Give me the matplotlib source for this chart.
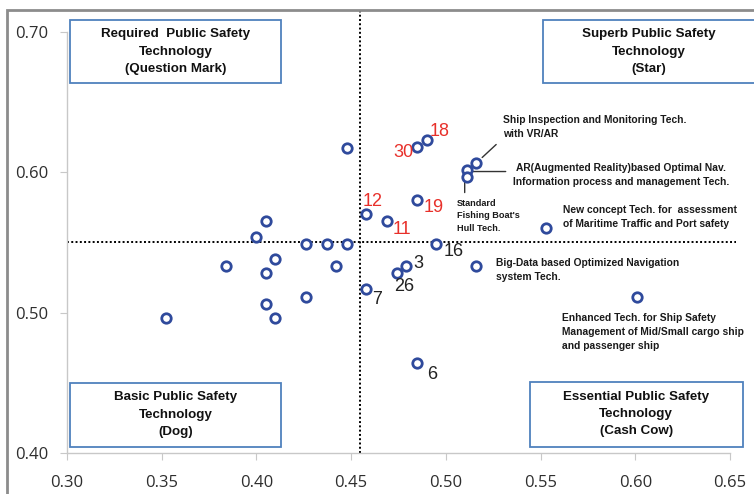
import matplotlib
matplotlib.use("Agg")
import matplotlib.pyplot as plt
from matplotlib.patches import Rectangle
from matplotlib.transforms import offset_copy

# ---------------- data ----------------
x_vals = [0.448, 0.458, 0.405, 0.400, 0.426, 0.437, 0.448, 0.384, 0.410, 0.405,
          0.442, 0.426, 0.405, 0.410, 0.352, 0.458, 0.485, 0.490, 0.516, 0.511,
          0.511, 0.485, 0.469, 0.553, 0.495, 0.479, 0.474, 0.516, 0.601, 0.485]
y_vals = [0.617, 0.570, 0.565, 0.554, 0.549, 0.549, 0.549, 0.533, 0.538, 0.528,
          0.533, 0.511, 0.506, 0.496, 0.496, 0.517, 0.618, 0.623, 0.607, 0.602,
          0.597, 0.580, 0.565, 0.560, 0.549, 0.533, 0.528, 0.533, 0.511, 0.464]

# numbered labels: (point index, text, colour, offset px, ha)
num_labels = [
    (1, "12", "#e8302a", (-4, 13), "left"),
    (16, "30", "#e8302a", (-4, -5), "right"),
    (17, "18", "#e8302a", (3, 9), "left"),
    (21, "19", "#e8302a", (6, -7), "left"),
    (22, "11", "#e8302a", (5, -8), "left"),
    (24, "16", "#222222", (7, -8), "left"),
    (25, "3", "#222222", (7, 3), "left"),
    (26, "26", "#222222", (-2, -13), "left"),
    (15, "7", "#222222", (6, -11), "left"),
    (29, "6", "#222222", (10, -11), "left"),
]

# descriptive annotations: (point index, text, offset px, ha, fontsize, leader line offsets)
tech_labels = [
    (18, "Ship Inspection and Monitoring Tech.\nwith VR/AR", (27, 36), "left", 7.4, ((6, 5), (20, 18))),
    (19, "AR(Augmented Reality)based Optimal Nav.\nInformation process and management Tech.", (154, -5), "center", 7.4, ((1, -2), (39, -2))),
    (20, "Standard\nFishing Boat's\nHull Tech.", (-10, -39), "left", 6.6, ((-2, -5), (-2, -16))),
    (23, "New concept Tech. for  assessment\nof Maritime Traffic and Port safety", (17, 11), "left", 7.4, None),
    (27, "Big-Data based Optimized Navigation\nsystem Tech.", (20, -4), "left", 7.4, None),
    (28, "Enhanced Tech. for Ship Safety\nManagement of Mid/Small cargo ship\nand passenger ship", (-75, -35), "left", 7.4, None),
]

quadrants = [
    ("Required  Public Safety\nTechnology\n(Question Mark)", (0.3016, 0.6637, 0.4132, 0.7085)),
    ("Superb Public Safety\nTechnology\n(Star)", (0.5513, 0.6637, 0.6630, 0.7085)),
    ("Basic Public Safety\nTechnology\n(Dog)", (0.3016, 0.4046, 0.4132, 0.4502)),
    ("Essential Public Safety\nTechnology\n(Cash Cow)", (0.5444, 0.4046, 0.6566, 0.4509)),
]

x_split = 0.4545
y_split = 0.5505
x_ticks = [0.30, 0.35, 0.40, 0.45, 0.50, 0.55, 0.60, 0.65]
y_ticks = [0.40, 0.50, 0.60, 0.70]

narrow = ["Liberation Sans", "DejaVu Sans"]

# ---------------- figure ----------------
fig = plt.figure(figsize=(7.54, 4.94), dpi=100)
ax = fig.add_axes([67 / 754, 41 / 494, 663 / 754, 421 / 494])
ax.set_xlim(0.30, 0.65)
ax.set_ylim(0.40, 0.70)

# outer frame
fig.patches.append(Rectangle((7 / 754, -0.1), 1.2, (494 - 10) / 494 + 0.1,
                             transform=fig.transFigure, fill=False,
                             edgecolor="#8c8c8c", linewidth=2.0))

for s in ["top", "right"]:
    ax.spines[s].set_visible(False)
for s in ["left", "bottom"]:
    ax.spines[s].set_color("#c8c8c8")
    ax.spines[s].set_linewidth(1.0)

ax.set_xticks(x_ticks)
ax.set_yticks(y_ticks)
ax.set_xticklabels([f"{v:.2f}" for v in x_ticks])
ax.set_yticklabels([f"{v:.2f}" for v in y_ticks])
ax.tick_params(axis="both", direction="out", length=5, color="#c8c8c8",
               labelsize=12, labelcolor="#2e2e2e")
ax.tick_params(axis="x", pad=10.5)
ax.tick_params(axis="y", pad=8.7)
for lab in ax.get_xticklabels() + ax.get_yticklabels():
    lab.set_family(["Open Sans", "DejaVu Sans"])

# split lines
ax.plot([x_split, x_split], [0.40, 0.7155], ls=(0, (1, 1.2)), color="black",
        lw=1.4, clip_on=False, zorder=2)
ax.plot([0.30, 0.653], [y_split, y_split], ls=(0, (1, 1.2)), color="black",
        lw=1.4, clip_on=False, zorder=2)

# points
ax.plot(x_vals, y_vals, "o", ms=6.8, mfc="white", mec="#2f4a9c", mew=2.0,
        ls="none", zorder=4, clip_on=False)

# number labels
for i, txt, col, (dx, dy), ha in num_labels:
    ax.annotate(txt, (x_vals[i], y_vals[i]), xytext=(dx, dy),
                textcoords="offset pixels", ha=ha, va="center",
                fontsize=13, color=col, family=["Liberation Sans", "DejaVu Sans"],
                zorder=5)

# tech labels
for i, txt, (dx, dy), ha, fs, leader in tech_labels:
    ax.annotate(txt, (x_vals[i], y_vals[i]), xytext=(dx, dy),
                textcoords="offset pixels", ha=ha, va="center", ma=ha,
                fontsize=fs, fontweight="bold", color="#1a1a1a",
                family=narrow, linespacing=1.5, zorder=5)
    if leader is not None:
        (a1, b1), (a2, b2) = leader
        tr = offset_copy(ax.transData, fig=fig, x=a1, y=b1, units="dots")
        ax.annotate("", xy=(x_vals[i], y_vals[i]), xycoords=tr,
                    xytext=(a2 - a1, b2 - b1), textcoords="offset pixels",
                    arrowprops=dict(arrowstyle="-", color="#333333", lw=1.0,
                                    shrinkA=0, shrinkB=0), zorder=3)

# quadrant boxes
for txt, (x0, y0, x1, y1) in quadrants:
    ax.add_patch(Rectangle((x0, y0), x1 - x0, y1 - y0, fill=True,
                           facecolor="white", edgecolor="#4f81bd", lw=1.3,
                           clip_on=False, zorder=6))
    ax.text((x0 + x1) / 2, (y0 + y1) / 2, txt, ha="center", va="center",
            fontsize=9.6, fontweight="bold", family=narrow, color="#111111",
            linespacing=1.6, clip_on=False, zorder=7)

fig.savefig("out.png", dpi=100)
